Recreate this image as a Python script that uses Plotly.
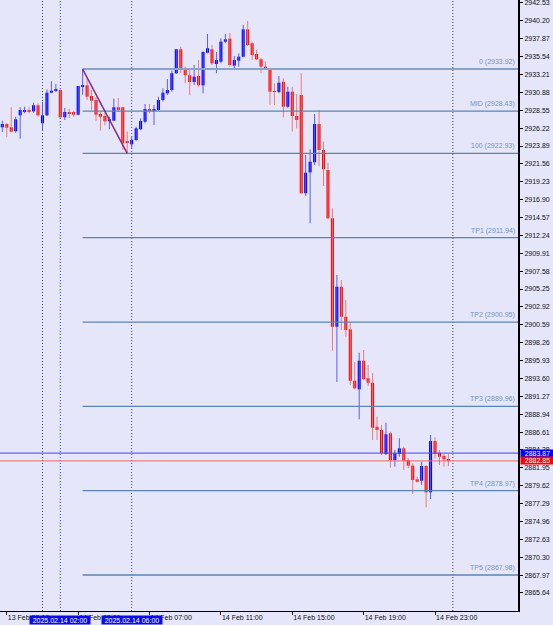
import plotly.graph_objects as go

# ---------------- data (15-minute candles, bar index = position) ----------------
opens = [2926.33, 2926.76, 2926.33, 2925.81, 2927.89, 2928.41, 2928.58, 2928.41, 2929.20, 2926.85,
         2927.89, 2930.84, 2931.10, 2931.19, 2927.63, 2928.32, 2928.32, 2927.97, 2931.65, 2931.80,
         2930.41, 2929.89, 2928.06, 2927.80, 2927.11, 2927.19, 2928.94, 2928.94, 2924.45, 2924.11,
         2924.67, 2926.07, 2927.06, 2928.71, 2928.58, 2928.58, 2929.89, 2930.76, 2931.19, 2933.37,
         2936.50, 2933.89, 2933.11, 2932.23, 2933.02, 2931.80, 2936.05, 2936.50, 2934.58, 2934.88,
         2937.49, 2937.88, 2934.36, 2935.01, 2935.53, 2939.10, 2937.28, 2935.88, 2935.19, 2934.23,
         2933.89, 2931.06, 2930.93, 2932.27, 2929.01, 2930.97, 2927.80, 2930.54, 2917.73, 2920.46,
         2921.77, 2926.76, 2923.37, 2920.76, 2914.47, 2900.34, 2905.55, 2901.64, 2900.00, 2893.30,
         2892.18, 2895.91, 2893.62, 2893.04, 2887.31, 2886.88, 2883.75, 2886.45, 2882.97, 2883.75,
         2884.49, 2882.97, 2882.23, 2880.45, 2880.27, 2882.19, 2878.76, 2885.44, 2883.92, 2883.49,
         2883.06]
highs = [2927.19, 2926.89, 2928.94, 2927.71, 2928.94, 2929.01, 2928.94, 2929.54, 2929.46, 2929.67,
         2931.28, 2932.32, 2931.97, 2931.28, 2928.84, 2928.75, 2928.49, 2931.71, 2933.92, 2932.59,
         2931.19, 2930.28, 2928.36, 2928.58, 2927.71, 2930.06, 2930.15, 2929.01, 2925.76, 2925.10,
         2926.41, 2927.50, 2929.37, 2929.37, 2929.24, 2930.32, 2931.41, 2932.62, 2933.71, 2936.50,
         2936.83, 2934.23, 2933.80, 2934.45, 2935.10, 2936.23, 2938.49, 2937.06, 2936.14, 2937.93,
         2938.49, 2938.62, 2935.62, 2935.97, 2939.66, 2940.18, 2937.49, 2936.40, 2935.32, 2934.88,
         2933.89, 2932.06, 2933.02, 2932.72, 2931.62, 2931.62, 2930.67, 2933.37, 2922.72, 2923.46,
         2928.06, 2928.58, 2924.45, 2921.72, 2915.77, 2907.08, 2906.43, 2903.82, 2900.99, 2895.74,
         2896.95, 2897.31, 2895.35, 2894.31, 2888.61, 2887.53, 2887.83, 2886.66, 2884.27, 2885.80,
         2884.70, 2883.19, 2882.54, 2880.79, 2882.75, 2882.32, 2886.23, 2885.93, 2884.27, 2883.75,
         2883.75]
lows = [2925.72, 2925.03, 2925.65, 2925.63, 2924.84, 2928.15, 2928.15, 2928.23, 2927.71, 2925.89,
        2927.80, 2930.76, 2930.93, 2927.54, 2927.28, 2927.54, 2927.71, 2927.89, 2930.58, 2929.89,
        2928.58, 2927.11, 2925.89, 2926.59, 2926.07, 2927.11, 2928.32, 2923.37, 2922.93, 2923.59,
        2924.58, 2925.98, 2926.85, 2928.15, 2926.63, 2928.49, 2929.67, 2930.54, 2930.97, 2933.28,
        2933.37, 2932.06, 2930.50, 2931.84, 2931.62, 2930.76, 2935.97, 2934.45, 2933.37, 2934.67,
        2937.28, 2934.23, 2933.89, 2934.23, 2935.43, 2936.93, 2935.10, 2935.10, 2933.37, 2933.80,
        2929.24, 2929.24, 2930.76, 2927.63, 2928.81, 2925.76, 2926.20, 2917.64, 2917.38, 2913.82,
        2921.42, 2921.29, 2918.68, 2914.34, 2897.21, 2893.13, 2899.91, 2899.04, 2892.74, 2892.18,
        2888.27, 2893.40, 2892.61, 2885.58, 2885.58, 2883.62, 2883.62, 2881.97, 2882.10, 2883.40,
        2881.67, 2881.89, 2878.54, 2880.01, 2879.71, 2876.80, 2877.89, 2883.19, 2882.32, 2882.10,
        2882.19]
closes = [2926.76, 2926.28, 2925.76, 2927.37, 2928.58, 2928.58, 2928.32, 2929.20, 2927.89, 2927.89,
          2930.84, 2931.10, 2931.28, 2927.63, 2928.32, 2928.15, 2927.97, 2931.71, 2931.84, 2930.32,
          2929.80, 2927.97, 2927.71, 2927.11, 2927.37, 2928.94, 2928.58, 2924.24, 2924.32, 2924.67,
          2926.20, 2927.15, 2928.71, 2928.58, 2928.71, 2929.89, 2930.84, 2931.19, 2933.37, 2936.50,
          2934.02, 2933.11, 2932.23, 2932.92, 2931.80, 2936.14, 2936.63, 2934.67, 2935.10, 2937.49,
          2937.80, 2934.45, 2935.10, 2935.53, 2939.10, 2937.06, 2935.75, 2935.19, 2934.23, 2933.97,
          2930.97, 2930.93, 2932.14, 2929.01, 2930.97, 2927.80, 2927.28, 2917.73, 2920.41, 2921.85,
          2926.76, 2923.37, 2920.86, 2914.47, 2900.34, 2905.55, 2901.64, 2899.91, 2893.30, 2892.31,
          2895.91, 2893.49, 2893.04, 2887.18, 2886.88, 2883.84, 2886.32, 2882.97, 2883.84, 2884.49,
          2882.88, 2882.23, 2880.36, 2880.14, 2882.19, 2878.76, 2885.44, 2883.75, 2883.40, 2883.06,
          2882.85]

fib_names = ["0", "MID", "100", "TP1", "TP2", "TP3", "TP4", "TP5"]
fib_values = [2933.92, 2928.43, 2922.93, 2911.94, 2900.95, 2889.96, 2878.97, 2867.98]
fib_start_bar = 18
trend_bars = [18, 28]
trend_prices = [2933.92, 2922.93]

time_tick_bars = [1, 17, 33, 49, 65, 81, 97]
time_tick_labels = ["13 Feb 23:00", "14 Feb 03:00", "14 Feb 07:00", "14 Feb 11:00",
                    "14 Feb 15:00", "14 Feb 19:00", "14 Feb 23:00"]
separator_bars = [9, 101]
marker_bars = [13, 29]
marker_labels = ["2025.02.14 02:00", "2025.02.14 06:00"]

price_tick_labels = ["2942.53", "2940.20", "2937.87", "2935.54", "2933.21", "2930.88", "2928.55",
                     "2926.22", "2923.89", "2921.56", "2919.23", "2916.90", "2914.57", "2912.24",
                     "2909.91", "2907.58", "2905.25", "2902.92", "2900.59", "2898.26", "2895.93",
                     "2893.60", "2891.27", "2888.94", "2886.61", "2884.28", "2881.95", "2879.62",
                     "2877.29", "2874.96", "2872.63", "2870.30", "2867.97", "2865.64"]
ask_price = 2883.87
bid_price = 2882.85

X_RANGE = [-0.52, 115.6]
Y_RANGE = [2863.29, 2942.92]

# ---------------- figure ----------------
BG = "#E6E6FA"
BULL, BEAR = "#0000FF", "#FF0000"
BULL_WICK, BEAR_WICK = "#5A5AFF", "#F07878"
FONT = "Liberation Sans"

bars = list(range(len(opens)))
fig = go.Figure()

for is_bull, wcol, bcol in [(True, BULL_WICK, BULL), (False, BEAR_WICK, BEAR)]:
    wx, wy = [], []
    bx, bbase, bh = [], [], []
    for i in bars:
        o, h, l, c = opens[i], highs[i], lows[i], closes[i]
        if (c >= o) != is_bull:
            continue
        wx += [i, i, None]
        wy += [l, h, None]
        bx.append(i)
        bbase.append(min(o, c))
        bh.append(max(abs(c - o), 0.13))
    fig.add_trace(go.Scatter(x=wx, y=wy, mode="lines", line=dict(color=wcol, width=1),
                             hoverinfo="skip", showlegend=False))
    fig.add_trace(go.Bar(x=bx, y=bh, base=bbase, width=0.68, marker=dict(color=bcol, line=dict(width=0)),
                         hoverinfo="skip", showlegend=False))

shapes = []
# vertical separators
for b in separator_bars:
    shapes.append(dict(type="line", xref="x", yref="paper", x0=b, x1=b, y0=0, y1=1, layer="below",
                       line=dict(color="#404040", width=1, dash="1px,2px")))
for b in marker_bars:
    shapes.append(dict(type="line", xref="x", yref="paper", x0=b, x1=b, y0=0, y1=1, layer="below",
                       line=dict(color="#3C3CFF", width=1, dash="1px,2px")))
# bid / ask lines
shapes.append(dict(type="line", xref="paper", yref="y", x0=0, x1=1, y0=ask_price, y1=ask_price,
                   line=dict(color="#4646F0", width=1)))
shapes.append(dict(type="line", xref="paper", yref="y", x0=0, x1=1, y0=bid_price, y1=bid_price,
                   line=dict(color="#F06464", width=1)))
# fibo levels
for name, v in zip(fib_names, fib_values):
    w, col = (2, "#86A4CB") if name == "0" else (1.3, "#5A84B4")
    shapes.append(dict(type="line", xref="x", yref="y", x0=fib_start_bar, x1=X_RANGE[1], y0=v, y1=v,
                       layer="above", line=dict(color=col, width=w)))
# trend line
shapes.append(dict(type="line", xref="x", yref="y", x0=trend_bars[0], x1=trend_bars[1],
                   y0=trend_prices[0], y1=trend_prices[1], layer="above",
                   line=dict(color="#8A2A8A", width=1.5)))

annotations = []
for name, v in zip(fib_names, fib_values):
    annotations.append(dict(xref="x", yref="y", x=X_RANGE[1], y=v, xanchor="right", yanchor="bottom",
                            text=f"{name} ({v:.2f})", showarrow=False, xshift=-1, yshift=1,
                            font=dict(family=FONT, size=7, color="#6F94C3")))
for b, lab in zip(marker_bars, marker_labels):
    annotations.append(dict(xref="x", yref="paper", x=b, y=0, xanchor="center", yanchor="top",
                            yshift=-4, text=lab, showarrow=False, bgcolor="#0A0AF0", borderpad=0,
                            width=60, height=8, font=dict(family=FONT, size=7, color="white")))
for p, col in [(ask_price, "#0000FF"), (bid_price, "#FF0000")]:
    annotations.append(dict(xref="paper", yref="y", x=1, y=p, xanchor="left", yanchor="middle",
                            xshift=1.5, text=f"{p:.2f}", showarrow=False, bgcolor=col, borderpad=0,
                            width=33, height=7, font=dict(family=FONT, size=7, color="white")))

fig.update_layout(
    width=553, height=625,
    margin=dict(l=0, r=35, t=0, b=14, pad=0),
    paper_bgcolor=BG, plot_bgcolor=BG,
    barmode="overlay", showlegend=False,
    shapes=shapes, annotations=annotations,
    font=dict(family=FONT, size=7, color="#111"),
    xaxis=dict(range=X_RANGE, showgrid=False, zeroline=False, showline=True, linecolor="#000",
               linewidth=1, ticks="outside", ticklen=3, tickcolor="#000", tickvals=time_tick_bars,
               ticktext=time_tick_labels, ticklabelposition="outside right", automargin=False,
               ticklabeloverflow="allow",
               tickfont=dict(family=FONT, size=7, color="#111"), fixedrange=True),
    yaxis=dict(range=Y_RANGE, side="right", showgrid=False, zeroline=False, showline=True,
               linecolor="#000", linewidth=2, ticks="outside", ticklen=3, tickcolor="#000",
               tickvals=[float(t) for t in price_tick_labels], ticktext=price_tick_labels,
               ticklabeloverflow="allow",
               automargin=False, tickfont=dict(family=FONT, size=7, color="#111"), fixedrange=True),
)

fig.write_html("out.html", config={"displayModeBar": False})
